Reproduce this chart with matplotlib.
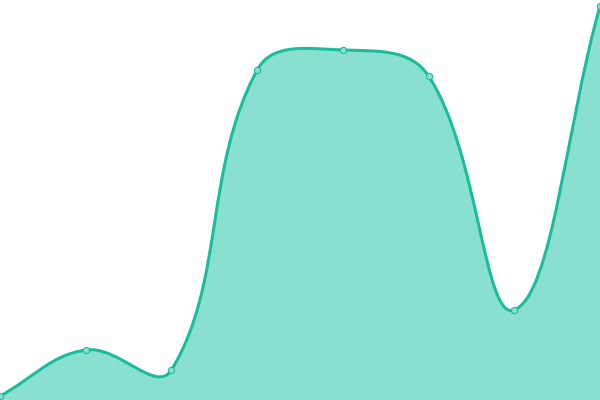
import numpy as np
import matplotlib
matplotlib.use("Agg")
from matplotlib import pyplot as plt
from matplotlib.path import Path
from matplotlib.patches import PathPatch

# values (hidden y axis, 0..100)
labels = ['1', '2', '3', '4', '5', '6', '7', '8']
values = [1, 12.5, 7.5, 82.5, 87.5, 81, 22.5, 98.5]

line_color = '#1abc9c'
fill_color = '#8ae0cf'
tension = 0.4


def spline_controls(pts, t):
    # same idea as chart.js splineCurve, done in pixel space
    n = len(pts)
    before, after = [], []
    for i in range(n):
        prev = pts[max(i - 1, 0)]
        cur = pts[i]
        nxt = pts[min(i + 1, n - 1)]
        d01 = np.hypot(*(cur - prev))
        d12 = np.hypot(*(nxt - cur))
        tot = d01 + d12
        s01 = d01 / tot if tot else 0
        s12 = d12 / tot if tot else 0
        before.append(cur - t * s01 * (nxt - prev))
        after.append(cur + t * s12 * (nxt - prev))
    return before, after


fig = plt.figure(figsize=(6, 4), dpi=100)
ax = fig.add_axes([0, 0, 1, 1])
x = np.arange(len(values))
ax.set_xlim(0, len(values) - 1)
ax.set_ylim(0, 100)
ax.axis('off')

pix = ax.transData.transform(np.column_stack([x, values]))
before, after = spline_controls(pix, tension)

verts = [pix[0]]
codes = [Path.MOVETO]
for i in range(len(pix) - 1):
    verts += [after[i], before[i + 1], pix[i + 1]]
    codes += [Path.CURVE4] * 3
inv = ax.transData.inverted()
line_verts = inv.transform(np.array(verts))

fill_verts = np.vstack([line_verts, [[x[-1], 0], [x[0], 0], line_verts[0]]])
fill_codes = codes + [Path.LINETO, Path.LINETO, Path.CLOSEPOLY]

ax.add_patch(PathPatch(Path(fill_verts, fill_codes), facecolor=fill_color,
                       edgecolor='none', clip_on=False))
ax.add_patch(PathPatch(Path(line_verts, codes), facecolor='none',
                       edgecolor=line_color, linewidth=2.2, clip_on=False))
ax.plot(x, values, 'o', markersize=4.5, markerfacecolor=fill_color,
        markeredgecolor=line_color, markeredgewidth=0.8, clip_on=False)

fig.savefig('out.png', dpi=100)
